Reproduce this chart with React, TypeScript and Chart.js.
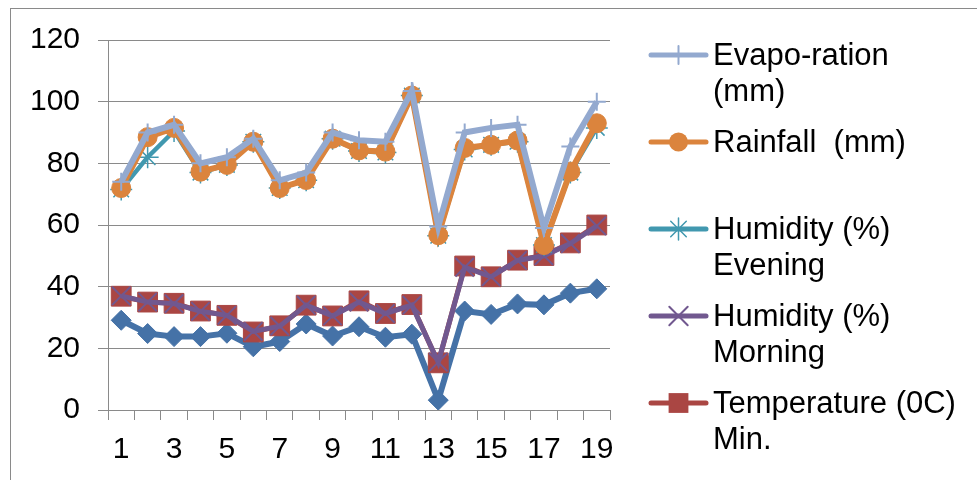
import React, { useEffect, useRef } from 'react';
import { Chart, registerables } from 'chart.js';

Chart.register(...registerables);

const categories = ['1', '2', '3', '4', '5', '6', '7', '8', '9', '10', '11', '12', '13', '14', '15', '16', '17', '18', '19'];

const evaporation = [74, 90, 92.5, 80, 82, 88, 74.5, 77, 90, 87.5, 87, 103.5, 59.5, 90, 91.5, 92.5, 59, 85.5, 100];
const rainfall = [72, 88.5, 91.5, 77.3, 79.5, 87, 72, 74.6, 88, 84.2, 83.8, 102, 56.7, 85, 86, 87.4, 53.5, 77.3, 93];
const humidityEvening = [71.5, 82, 90.5, 77, 79.5, 87, 72, 74.5, 88, 84, 83.5, 102, 56.5, 84.5, 86, 87, 53.5, 77, 91.5];
const humidityMorning = [37, 35, 34.5, 32, 30.7, 25.5, 27.2, 34, 30.5, 35, 31.3, 34, 15.5, 46.3, 43.2, 48.5, 50, 54, 59.7];
const temperatureMin = [36.9, 35, 34.6, 32.1, 30.7, 25.3, 27.3, 34, 30.5, 35.4, 31.3, 34.2, 15.3, 46.7, 43.2, 48.6, 50.1, 54.2, 60];
const temperatureMax = [29.1, 24.8, 23.8, 23.8, 24.9, 20.5, 22.2, 27.9, 24, 27, 23.6, 24.6, 3.2, 32.1, 31, 34.4, 34.1, 37.9, 39.3];

const yMin = 0;
const yMax = 120;
const yStep = 20;

const legendLabels: string[][] = [
  ['Evapo-ration', '(mm)'],
  ['Rainfall  (mm)'],
  ['Humidity (%)', 'Evening'],
  ['Humidity (%)', 'Morning'],
  ['Temperature (0C)', 'Min.'],
  ['Temperature (0C)', 'Max.'],
];

// number of legend entries that fit inside the visible frame
const visibleLegendEntries = 5;

const FONT = "Arial, 'Liberation Sans', sans-serif";

type Series = {
  data: number[];
  color: string;
  style: string;
  radius: number;
  lineWidth: number;
  pointBorderWidth: number;
  fillPoint: boolean;
};

const seriesList: Series[] = [
  { data: evaporation, color: '#93A9CF', style: 'cross', radius: 9, lineWidth: 6, pointBorderWidth: 2, fillPoint: false },
  { data: rainfall, color: '#DB843D', style: 'circle', radius: 9.5, lineWidth: 6, pointBorderWidth: 1, fillPoint: true },
  { data: humidityEvening, color: '#4198AF', style: 'star', radius: 11, lineWidth: 4.5, pointBorderWidth: 1.5, fillPoint: false },
  { data: humidityMorning, color: '#71588F', style: 'crossRot', radius: 13, lineWidth: 5, pointBorderWidth: 2, fillPoint: false },
  { data: temperatureMin, color: '#AA4643', style: 'rect', radius: 14, lineWidth: 5, pointBorderWidth: 1, fillPoint: true },
  { data: temperatureMax, color: '#4572A7', style: 'rectRot', radius: 10, lineWidth: 6, pointBorderWidth: 1, fillPoint: true },
];

function drawMarker(ctx: CanvasRenderingContext2D, s: Series, x: number, y: number) {
  const r = s.radius;
  ctx.save();
  ctx.strokeStyle = s.color;
  ctx.fillStyle = s.color;
  ctx.lineWidth = s.pointBorderWidth;
  ctx.beginPath();
  if (s.style === 'circle') {
    ctx.arc(x, y, r, 0, Math.PI * 2);
    ctx.fill();
  } else if (s.style === 'rect') {
    const h = r * Math.SQRT1_2;
    ctx.rect(x - h, y - h, 2 * h, 2 * h);
    ctx.fill();
  } else if (s.style === 'rectRot') {
    ctx.moveTo(x - r, y);
    ctx.lineTo(x, y - r);
    ctx.lineTo(x + r, y);
    ctx.lineTo(x, y + r);
    ctx.closePath();
    ctx.fill();
  } else if (s.style === 'cross') {
    ctx.moveTo(x, y - r);
    ctx.lineTo(x, y + r);
    ctx.moveTo(x - r, y);
    ctx.lineTo(x + r, y);
    ctx.stroke();
  } else if (s.style === 'crossRot') {
    const d = r * Math.SQRT1_2;
    ctx.moveTo(x - d, y - d);
    ctx.lineTo(x + d, y + d);
    ctx.moveTo(x - d, y + d);
    ctx.lineTo(x + d, y - d);
    ctx.stroke();
  } else if (s.style === 'star') {
    const d = r * Math.SQRT1_2;
    ctx.moveTo(x, y - r);
    ctx.lineTo(x, y + r);
    ctx.moveTo(x - r, y);
    ctx.lineTo(x + r, y);
    ctx.moveTo(x - d, y - d);
    ctx.lineTo(x + d, y + d);
    ctx.moveTo(x - d, y + d);
    ctx.lineTo(x + d, y - d);
    ctx.stroke();
  }
  ctx.restore();
}

const frameAndLegend = {
  id: 'frameAndLegend',
  beforeDraw(chart: any) {
    const ctx: CanvasRenderingContext2D = chart.ctx;
    ctx.save();
    ctx.fillStyle = '#ffffff';
    ctx.fillRect(0, 0, chart.width, chart.height);
    ctx.strokeStyle = '#8a8a8a';
    ctx.lineWidth = 1;
    ctx.strokeRect(10.5, 8.5, 1200, 700);
    ctx.restore();
  },
  afterDraw(chart: any) {
    const ctx: CanvasRenderingContext2D = chart.ctx;
    const x0 = 651;
    const x1 = 706;
    const textX = 713;
    const firstY = 55;
    const slot = 87;
    const lineGap = 36;
    ctx.save();
    seriesList.slice(0, visibleLegendEntries).forEach((s, i) => {
      const y = firstY + i * slot;
      ctx.strokeStyle = s.color;
      ctx.lineWidth = 5;
      ctx.lineCap = 'round';
      ctx.beginPath();
      ctx.moveTo(x0, y);
      ctx.lineTo(x1, y);
      ctx.stroke();
      drawMarker(ctx, s, (x0 + x1) / 2, y);
      ctx.fillStyle = '#000000';
      ctx.font = `31px ${FONT}`;
      ctx.textAlign = 'left';
      ctx.textBaseline = 'middle';
      legendLabels[i].forEach((t, j) => {
        ctx.fillText(t, textX, y + 1 + j * lineGap);
      });
    });
    ctx.restore();
  },
};

export default function App() {
  const canvasRef = useRef<HTMLCanvasElement | null>(null);

  useEffect(() => {
    const canvas = canvasRef.current;
    if (!canvas) return;
    const chart = new Chart(canvas, {
      type: 'line',
      data: {
        labels: categories,
        datasets: seriesList.map((s, i) => ({
          label: legendLabels[i].join(' '),
          data: s.data,
          borderColor: s.color,
          backgroundColor: s.color,
          borderWidth: s.lineWidth,
          tension: 0,
          fill: false,
          pointStyle: s.style as any,
          pointRadius: s.radius,
          pointHoverRadius: s.radius,
          pointBorderWidth: s.pointBorderWidth,
          pointBorderColor: s.color,
          pointBackgroundColor: s.fillPoint ? s.color : 'rgba(0,0,0,0)',
        })),
      },
      options: {
        responsive: false,
        animation: false,
        devicePixelRatio: 1,
        events: [],
        layout: { padding: { top: 40, right: 367, left: 0, bottom: 0 } },
        plugins: {
          legend: { display: false },
          tooltip: { enabled: false },
        },
        scales: {
          x: {
            type: 'category',
            offset: true,
            grid: {
              offset: true,
              drawOnChartArea: false,
              drawTicks: true,
              tickLength: 10,
              color: '#8a8a8a',
              lineWidth: 1,
            },
            border: { color: '#8a8a8a', width: 1 },
            ticks: {
              autoSkip: false,
              maxRotation: 0,
              minRotation: 0,
              padding: 12,
              color: '#000000',
              font: { family: FONT, size: 30 },
              callback: (_v: any, idx: number) => (idx % 2 === 0 ? categories[idx] : ''),
            },
            afterFit: (scale: any) => {
              scale.height = 70;
            },
          },
          y: {
            min: yMin,
            max: yMax,
            grid: { color: '#8a8a8a', lineWidth: 1, tickLength: 10, drawTicks: true },
            border: { color: '#8a8a8a', width: 1 },
            ticks: {
              stepSize: yStep,
              padding: 18,
              color: '#000000',
              font: { family: FONT, size: 30 },
            },
            afterFit: (scale: any) => {
              scale.width = 108;
            },
          },
        },
      },
      plugins: [frameAndLegend],
    });
    return () => chart.destroy();
  }, []);

  return (
    <div style={{ position: 'fixed', left: 0, top: 0, width: 977, height: 480, background: '#fff' }}>
      <canvas ref={canvasRef} width={977} height={480} style={{ display: 'block', width: 977, height: 480 }} />
    </div>
  );
}
